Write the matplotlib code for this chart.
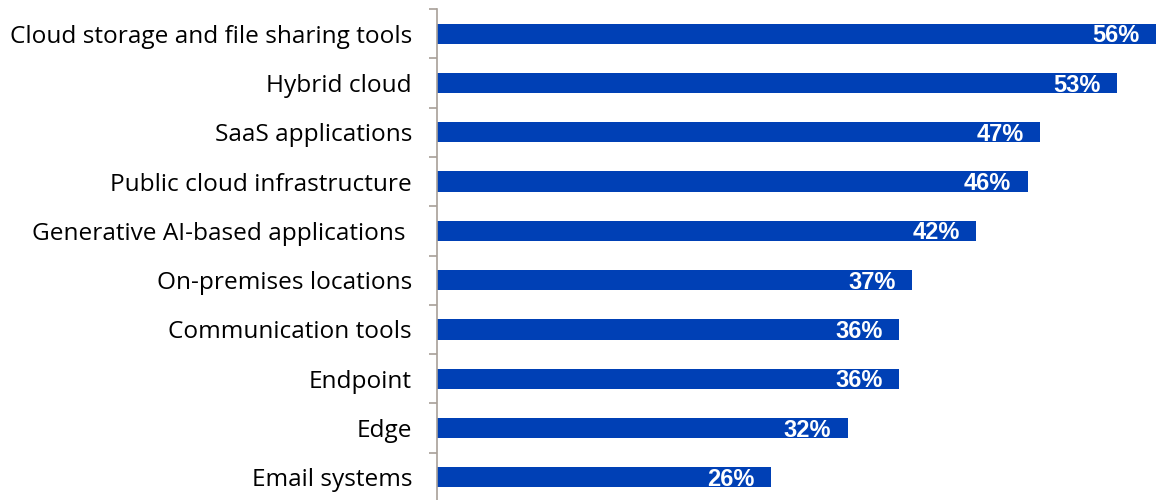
import matplotlib.pyplot as plt
import numpy as np

categories = ['Cloud storage and file sharing tools', 'Hybrid cloud', 'SaaS applications',
              'Public cloud infrastructure', 'Generative AI-based applications ',
              'On-premises locations', 'Communication tools', 'Endpoint', 'Edge', 'Email systems']
values = [56, 53, 47, 46, 42, 37, 36, 36, 32, 26]
value_labels = ['56%', '53%', '47%', '46%', '42%', '37%', '36%', '36%', '32%', '26%']

bar_color = '#0040B5'
axis_color = '#A8A098'

fig = plt.figure(figsize=(11.56, 5.0), dpi=100)
ax = fig.add_axes([437/1156, -2/500, 719/1156, 493/500])

y = np.arange(len(categories))
ax.barh(y, values, height=0.41, color=bar_color, zorder=2)

for yi, v, lab in zip(y, values, value_labels):
    ax.annotate(lab, xy=(v, yi), xytext=(-12, -1.5), textcoords='offset points',
                ha='right', va='center', color='white', fontsize=17,
                fontweight='bold', family='Liberation Sans')

ax.set_xlim(0, 56)
ax.set_ylim(len(categories) - 0.5, -0.5)
ax.set_yticks(y)
ax.set_yticklabels(categories, fontsize=17.6, family='Open Sans')
ax.tick_params(axis='y', which='major', length=0, pad=18)
ax.set_yticks(np.arange(-0.5, len(categories), 1), minor=True)
ax.tick_params(axis='y', which='minor', length=5.5, width=1.2, color=axis_color)
ax.set_xticks([])

for s in ['top', 'right', 'bottom']:
    ax.spines[s].set_visible(False)
ax.spines['left'].set_color(axis_color)
ax.spines['left'].set_linewidth(1.2)

fig.savefig('out.png', dpi=100)
